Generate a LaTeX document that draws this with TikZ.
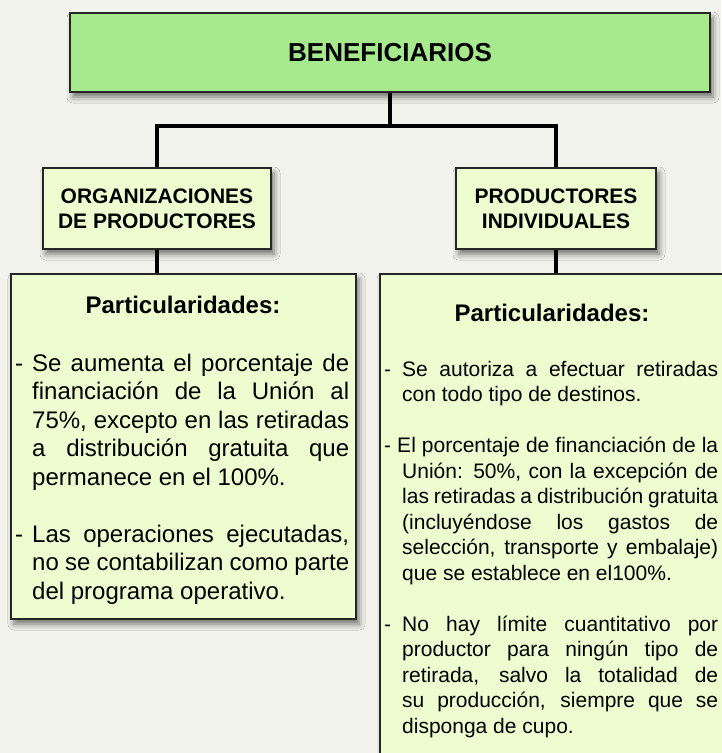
\documentclass[tikz,border=0pt]{standalone}
\usepackage{fontspec}
\setmainfont{Liberation Sans}
\usetikzlibrary{shadows.blur}
\definecolor{bgc}{RGB}{243,243,237}
\definecolor{topfill}{RGB}{167,234,142}
\definecolor{boxfill}{RGB}{238,253,208}
\newcommand\jl[2]{\makebox[#1][s]{#2}\par}
\tikzset{
  boxbase/.style={draw=black!85, line width=1.2pt, inner sep=0pt,
    blur shadow={shadow xshift=3pt, shadow yshift=-5pt, shadow blur radius=6pt, shadow opacity=55}},
  topbox/.style={boxbase, fill=topfill, minimum width=640pt, minimum height=79pt,
    font=\fontsize{26}{30}\selectfont\bfseries},
  headbox/.style={boxbase, fill=boxfill, minimum height=81pt, align=center,
    font=\fontsize{21}{25}\selectfont\bfseries},
  textbox/.style={boxbase, fill=boxfill},
  conn/.style={draw=black, line width=3.2pt},
  heading/.style={inner sep=0pt, font=\fontsize{24}{28}\selectfont\bfseries},
  body/.style={anchor=base west, inner sep=0pt}
}
\begin{document}
\begin{tikzpicture}[x=1pt, y=-1pt]
\useasboundingbox[fill=bgc] (0,0) rectangle (721,753);
% connectors (drawn first, under the boxes)
\coordinate (bar) at (390,126);
% boxes
\node[topbox] (top) at (390,52.5) {BENEFICIARIOS};
\node[headbox, minimum width=228pt] (hl) at (157,208.5) {ORGANIZACIONES\\DE PRODUCTORES};
\node[headbox, minimum width=200pt] (hr) at (556,208.5) {PRODUCTORES\\INDIVIDUALES};
\node[textbox, minimum width=345pt, minimum height=345pt] (tl) at (183.5,446.5) {};
\node[textbox, minimum width=360pt, minimum height=500pt] (tr) at (560,524) {};
\draw[conn] (top.south) -- (bar);
\draw[conn] (hl.north) |- (bar) -| (hr.north);
\draw[conn] (hl.south) -- (hl.south |- tl.north);
\draw[conn] (hr.south) -- (hr.south |- tr.north);
% headings
\node[heading] (pl) at (183,305) {Particularidades:};
\node[heading] (pr) at (552,313) {Particularidades:};
% left body
\node[body] (lbody) at (15,371) {\parbox[t]{334pt}{\fontsize{24}{28.5}\selectfont
\makebox[17pt][l]{-}\jl{317pt}{Se aumenta el porcentaje de}
\hspace*{17pt}\jl{317pt}{financiación de la Unión al}
\hspace*{17pt}\jl{317pt}{75\%, excepto en las retiradas}
\hspace*{17pt}\jl{317pt}{a distribución gratuita que}
\hspace*{17pt}permanece en el 100\%.\par
\vspace{28.5pt}
\makebox[17pt][l]{-}\jl{317pt}{Las operaciones ejecutadas,}
\hspace*{17pt}\jl{317pt}{no se contabilizan como parte}
\hspace*{17pt}del programa operativo.\par}};
% right body
\node[body] (rbody) at (384,376) {\parbox[t]{334pt}{\fontsize{21}{25.5}\selectfont
\makebox[18pt][l]{-}\jl{316pt}{Se autoriza a efectuar retiradas}
\hspace*{18pt}con todo tipo de destinos.\par
\vspace{25.5pt}
\jl{334pt}{- El porcentaje de financiación de la}
\hspace*{18pt}\jl{316pt}{Unión: 50\%, con la excepción de}
\hspace*{18pt}\jl{316pt}{las retiradas a distribución gratuita}
\hspace*{18pt}\jl{316pt}{(incluyéndose los gastos de}
\hspace*{18pt}\jl{316pt}{selección, transporte y embalaje)}
\hspace*{18pt}que se establece en el100\%.\par
\vspace{25.5pt}
\makebox[18pt][l]{-}\jl{316pt}{No hay límite cuantitativo por}
\hspace*{18pt}\jl{316pt}{productor para ningún tipo de}
\hspace*{18pt}\jl{316pt}{retirada, salvo la totalidad de}
\hspace*{18pt}\jl{316pt}{su producción, siempre que se}
\hspace*{18pt}disponga de cupo.\par}};
\end{tikzpicture}
\end{document}
